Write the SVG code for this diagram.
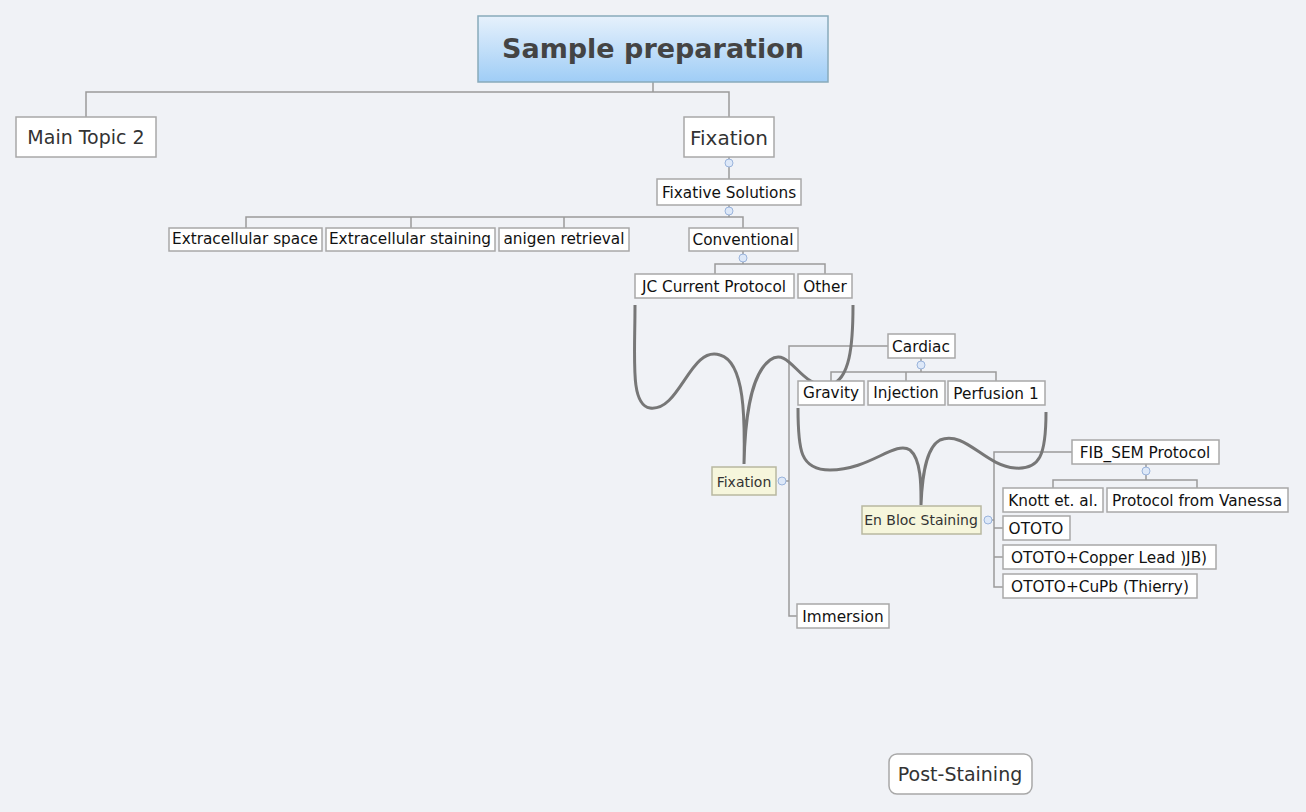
<svg xmlns="http://www.w3.org/2000/svg" width="1306" height="812" viewBox="0 0 1306 812">
<defs>
<linearGradient id="g" x1="0" y1="0" x2="0" y2="1"><stop offset="0" stop-color="#e6f1fc"/><stop offset="1" stop-color="#9fcdf6"/></linearGradient>
<style>
text{font-family:"DejaVu Sans",Verdana,sans-serif;fill:#111}
.b{fill:#fff;stroke:#a8a8a8;stroke-width:1.5}
.y{fill:#f6f6dc;stroke:#b8b8a0;stroke-width:1.5}
.l{fill:none;stroke:#9a9a9a;stroke-width:1.5}
.c{fill:none;stroke:#777;stroke-width:3}
.h{fill:#dde8f8;stroke:#9ab4dc;stroke-width:1}
.t{font-size:15.3px}
</style>
</defs>
<rect width="1306" height="812" fill="#f0f2f6"/>
<g id="connectors">
<path class="l" d="M653 82V92H86V117M653 92H729V117"/>
<path class="l" d="M729 157V179"/>
<path class="l" d="M729 205V217H246V228M411 217V228M564 217V228M729 217H743V228"/>
<path class="l" d="M743 251V264H715V274M743 264H825V274"/>
<path class="l" d="M888 346H789V616H797M782 481H789"/>
<path class="l" d="M921 358V372H831V381M921 372H906V381M921 372H996V381"/>
<path class="l" d="M1072 452H994V587H1003M988 520H994M994 528H1003M994 557H1003"/>
<path class="l" d="M1146 464V480H1053V488M1146 480H1197V488"/>
<path class="c" d="M635 305C635 360 630 405 650 408C680 412 690 345 720 355C745 362 745 420 744 464M853 305C853 345 850 380 830 385C800 390 790 345 770 360C750 375 745 420 744 464"/>
<path class="c" d="M798 408C798 450 800 470 830 470C870 470 895 440 910 450C922 460 921 490 921 505M1046 412C1046 455 1040 470 1015 468C985 466 965 430 940 440C925 448 922 480 921 505"/>
</g>
<g id="root"><rect x="478" y="16" width="350" height="66" fill="url(#g)" stroke="#8ab" stroke-width="1.5"/><text x="653" y="58" text-anchor="middle" style="font-size:27px;font-weight:bold;fill:#444">Sample preparation</text></g>
<g id="mt2"><rect class="b" x="16" y="117" width="140" height="40"/><text x="86" y="144" text-anchor="middle" style="font-size:19px;fill:#333">Main Topic 2</text></g>
<g id="fix"><rect class="b" x="684" y="117" width="90" height="40"/><text x="729" y="145" text-anchor="middle" style="font-size:20px;fill:#333">Fixation</text></g>
<g id="fs"><rect class="b" x="657" y="179" width="144" height="26"/><text x="729" y="198" text-anchor="middle" class="t">Fixative Solutions</text></g>
<g id="es"><rect class="b" x="169" y="228" width="153" height="23"/><text x="245" y="244" text-anchor="middle" class="t">Extracellular space</text></g>
<g id="est"><rect class="b" x="326" y="228" width="169" height="23"/><text x="410" y="244" text-anchor="middle" class="t">Extracellular staining</text></g>
<g id="ar"><rect class="b" x="499" y="228" width="130" height="23"/><text x="564" y="244" text-anchor="middle" class="t">anigen retrieval</text></g>
<g id="conv"><rect class="b" x="689" y="228" width="109" height="23"/><text x="743" y="245" text-anchor="middle" class="t">Conventional</text></g>
<g id="jc"><rect class="b" x="635" y="274" width="159" height="24"/><text x="714" y="292" text-anchor="middle" class="t">JC Current Protocol</text></g>
<g id="oth"><rect class="b" x="798" y="274" width="54" height="24"/><text x="825" y="292" text-anchor="middle" class="t">Other</text></g>
<g id="card"><rect class="b" x="888" y="334" width="67" height="24"/><text x="921" y="352" text-anchor="middle" class="t">Cardiac</text></g>
<g id="grav"><rect class="b" x="798" y="381" width="66" height="24"/><text x="831" y="398" text-anchor="middle" class="t">Gravity</text></g>
<g id="inj"><rect class="b" x="868" y="381" width="77" height="24"/><text x="906" y="398" text-anchor="middle" class="t">Injection</text></g>
<g id="perf"><rect class="b" x="948" y="381" width="97" height="24"/><text x="996" y="399" text-anchor="middle" class="t">Perfusion 1</text></g>
<g id="fix2"><rect class="y" x="712" y="467" width="64" height="28"/><text x="744" y="487" text-anchor="middle" style="font-size:14px;fill:#333">Fixation</text></g>
<g id="ebs"><rect class="y" x="862" y="506" width="119" height="28"/><text x="921" y="525" text-anchor="middle" style="font-size:14px;fill:#333">En Bloc Staining</text></g>
<g id="fib"><rect class="b" x="1072" y="440" width="147" height="24"/><text x="1145" y="458" text-anchor="middle" class="t">FIB_SEM Protocol</text></g>
<g id="kn"><rect class="b" x="1003" y="488" width="100" height="24"/><text x="1053" y="506" text-anchor="middle" class="t">Knott et. al.</text></g>
<g id="pv"><rect class="b" x="1107" y="488" width="181" height="24"/><text x="1197" y="506" text-anchor="middle" class="t">Protocol from Vanessa</text></g>
<g id="o1"><rect class="b" x="1003" y="516" width="67" height="24"/><text x="1036" y="534" text-anchor="middle" class="t">OTOTO</text></g>
<g id="o2"><rect class="b" x="1003" y="545" width="213" height="24"/><text x="1109" y="563" text-anchor="middle" class="t">OTOTO+Copper Lead )JB)</text></g>
<g id="o3"><rect class="b" x="1003" y="574" width="194" height="24"/><text x="1100" y="592" text-anchor="middle" class="t">OTOTO+CuPb (Thierry)</text></g>
<g id="imm"><rect class="b" x="797" y="604" width="92" height="24"/><text x="843" y="622" text-anchor="middle" class="t">Immersion</text></g>
<g id="ps"><rect class="b" x="889" y="754" width="143" height="40" rx="8"/><text x="960" y="781" text-anchor="middle" style="font-size:19px;fill:#333">Post-Staining</text></g>
<g id="handles">
<circle class="h" cx="729" cy="163" r="4"/><circle class="h" cx="729" cy="211" r="4"/><circle class="h" cx="743" cy="258" r="4"/>
<circle class="h" cx="921" cy="365" r="4"/><circle class="h" cx="782" cy="481" r="4"/><circle class="h" cx="1146" cy="471" r="4"/><circle class="h" cx="988" cy="520" r="4"/>
</g>
</svg>
